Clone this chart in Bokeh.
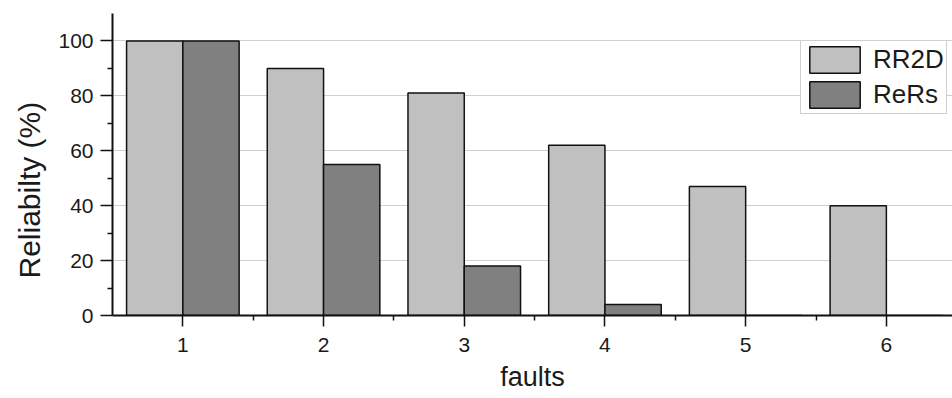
from bokeh.plotting import figure
from bokeh.models import ColumnDataSource, Range1d, FixedTicker, Legend, LegendItem, Title
from bokeh.transform import dodge
from bokeh.embed import file_html
from bokeh.resources import INLINE

# ---- data ----
faults = [1, 2, 3, 4, 5, 6]
rr2d = [100, 90, 81, 62, 47, 40]
rers = [100, 55, 18, 4, 0, 0]
y_ticks = [0, 20, 40, 60, 80, 100]
y_minor = [10, 30, 50, 70, 90]
x_minor = [1.5, 2.5, 3.5, 4.5, 5.5, 6.5]
series_names = ["RR2D", "ReRs"]
x_title = "faults"
y_title = "Reliabilty (%)"

FONT = "Liberation Sans"
TXT = "#1a1a1a"

src = ColumnDataSource(dict(x=faults, rr2d=rr2d, rers=rers))

p = figure(width=952, height=398, output_backend="svg", toolbar_location=None,
           x_range=Range1d(0.5, 6.47), y_range=Range1d(0, 110),
           min_border_left=112, min_border_right=0, min_border_top=13,
           min_border_bottom=83)
p.outline_line_color = None
p.background_fill_color = "white"

p.ygrid.grid_line_color = "#cfcfcf"
p.ygrid.grid_line_width = 1.2
p.xgrid.visible = False

r1 = p.vbar(x=dodge('x', -0.2, range=p.x_range), top='rr2d', width=0.4, source=src,
            fill_color="#c0c0c0", line_color="#111111", line_width=1.5)
r2 = p.vbar(x=dodge('x', 0.2, range=p.x_range), top='rers', width=0.4, source=src,
            fill_color="#808080", line_color="#111111", line_width=1.5)

p.xaxis.ticker = FixedTicker(ticks=faults, minor_ticks=x_minor)
p.yaxis.ticker = FixedTicker(ticks=y_ticks, minor_ticks=y_minor)

for ax in (p.xaxis[0], p.yaxis[0]):
    ax.axis_line_width = 2
    ax.axis_line_color = "#111111"
    ax.major_tick_line_color = "#111111"
    ax.minor_tick_line_color = "#111111"
    ax.major_tick_line_width = 1.5
    ax.minor_tick_line_width = 1.5
    ax.major_tick_in = 0
    ax.minor_tick_in = 0
    ax.major_label_text_font = FONT
    ax.major_label_text_font_size = "21px"
    ax.major_label_text_color = TXT
    ax.major_label_standoff = 7

p.xaxis.major_tick_out = 11
p.xaxis.minor_tick_out = 5
p.xaxis.major_label_standoff = 11
p.yaxis.major_tick_out = 12
p.yaxis.minor_tick_out = 5

p.xaxis.axis_label = x_title
p.xaxis.axis_label_text_font = FONT
p.xaxis.axis_label_text_font_size = "27px"
p.xaxis.axis_label_text_font_style = "normal"
p.xaxis.axis_label_text_color = TXT
p.xaxis.axis_label_standoff = 7

p.add_layout(Title(text=y_title, align="left", offset=37, standoff=19,
                   text_font=FONT, text_font_size="30px", text_font_style="normal",
                   text_color=TXT), "left")

legend = Legend(items=[LegendItem(label=series_names[0], renderers=[r1]),
                       LegendItem(label=series_names[1], renderers=[r2])],
                location=(688, 201), glyph_width=63, glyph_height=33, label_height=33,
                spacing=2, padding=2, margin=0, label_standoff=7,
                label_text_font=FONT, label_text_font_size="26px",
                label_text_color=TXT, border_line_color="#a0a0a0",
                border_line_width=1.5, background_fill_alpha=1)
p.add_layout(legend)

open("out.html", "w").write(file_html(p, INLINE))
